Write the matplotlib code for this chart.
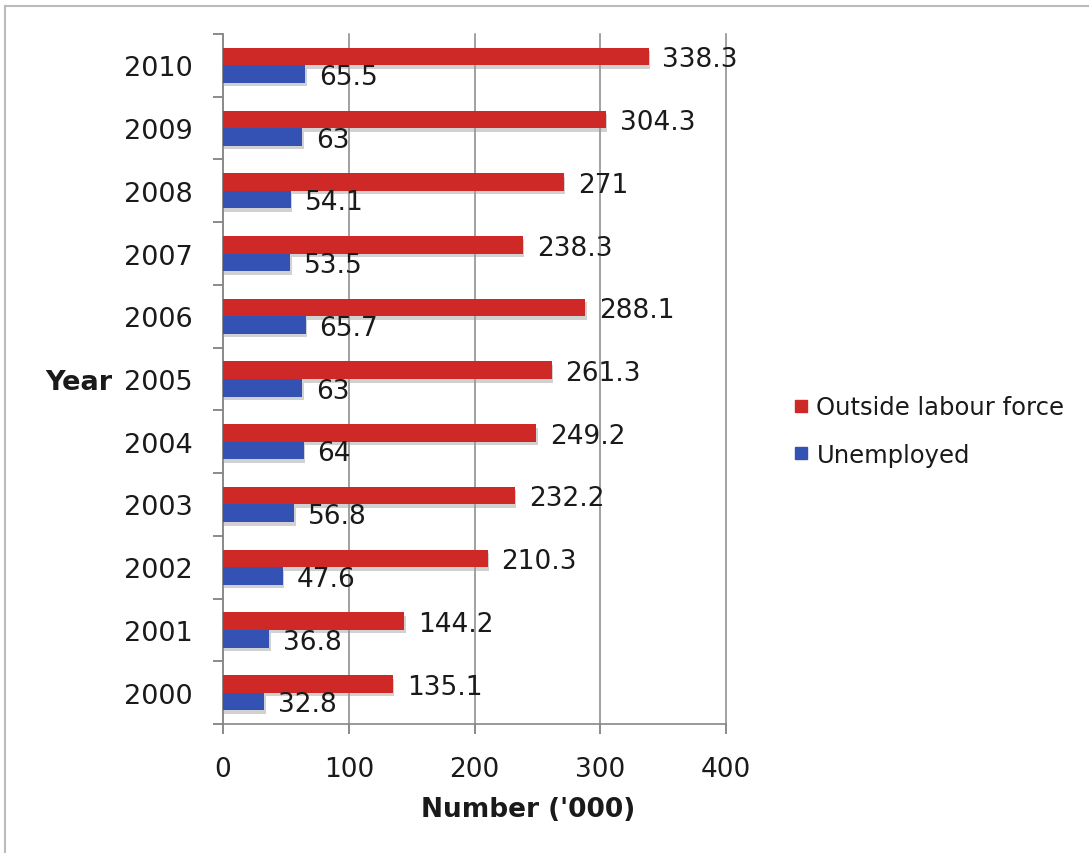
import matplotlib
matplotlib.use("Agg")
import matplotlib.pyplot as plt
import matplotlib.patheffects as pe
from matplotlib.lines import Line2D
import numpy as np

years = [2000, 2001, 2002, 2003, 2004, 2005, 2006, 2007, 2008, 2009, 2010]
outside = [135.1, 144.2, 210.3, 232.2, 249.2, 261.3, 288.1, 238.3, 271, 304.3, 338.3]
unemployed = [32.8, 36.8, 47.6, 56.8, 64, 63, 65.7, 53.5, 54.1, 63, 65.5]

red = "#cf2927"
blue = "#3352b4"
txt = "#1a1a1a"

fig = plt.figure(figsize=(10.89, 8.54), dpi=100)
ax = fig.add_axes([0.2048, 0.151, 0.462, 0.808])

y = np.arange(len(years))
h = 0.28
shadow = [pe.SimplePatchShadow(offset=(1, -2.5), shadow_rgbFace="#999999", alpha=0.45), pe.Normal()]
rb = ax.barh(y + h / 2, outside, height=h, color=red, path_effects=shadow, zorder=3)
bb = ax.barh(y - h / 2, unemployed, height=h, color=blue, path_effects=shadow, zorder=3)

for bars, vals in ((rb, outside), (bb, unemployed)):
    for b, v in zip(bars, vals):
        ax.annotate(f"{v:g}", (v, b.get_y() + b.get_height() / 2),
                    xytext=(10, -2), textcoords="offset points",
                    ha="left", va="center", fontsize=19, color=txt, zorder=4)

ax.set_xlim(0, 400)
ax.set_ylim(-0.5, len(years) - 0.5)
ax.set_xticks([0, 100, 200, 300, 400])
ax.set_yticks(y)
ax.set_yticklabels([str(v) for v in years])
ax.set_yticks(np.arange(-0.5, len(years), 1), minor=True)
ax.tick_params(axis="y", which="major", length=0, pad=22, labelsize=19.5, labelcolor=txt)
ax.tick_params(axis="y", which="minor", length=7, width=1.2, color="#777777")
ax.tick_params(axis="x", length=7, width=1.2, color="#777777", pad=16, labelsize=19, labelcolor=txt)

ax.grid(axis="x", color="#888888", linewidth=1.1, zorder=0)
for gl in ax.get_xgridlines():
    gl.set_clip_on(False)
for s in ("top", "right"):
    ax.spines[s].set_visible(False)
for s in ("left", "bottom"):
    ax.spines[s].set_color("#888888")
    ax.spines[s].set_linewidth(1.2)

fig.text(528 / 1089, 1 - 810 / 854, "Number ('000)", ha="center", va="center",
         fontsize=19, fontweight="bold", color=txt)
fig.text(79 / 1089, 1 - 383 / 854, "Year", ha="center", va="center",
         fontsize=19.5, fontweight="bold", color=txt)

handles = [Line2D([], [], marker="s", linestyle="none", markersize=9, color=red),
           Line2D([], [], marker="s", linestyle="none", markersize=9, color=blue)]
fig.legend(handles, ["Outside labour force", "Unemployed"], loc="center left",
           bbox_to_anchor=(769 / 1089, 1 - 432 / 854), frameon=False, fontsize=17.5,
           handlelength=0.8, handletextpad=0.25, labelspacing=0.95, labelcolor=txt)

# chart-area frame (left and top edges)
fig.add_artist(Line2D([5 / 1089, 5 / 1089], [0, 1 - 7 / 854], transform=fig.transFigure,
                      color="#bbbbbb", linewidth=1.5))
fig.add_artist(Line2D([5 / 1089, 1], [1 - 7 / 854, 1 - 7 / 854], transform=fig.transFigure,
                      color="#bbbbbb", linewidth=1.5))

fig.savefig("out.png", dpi=100)
